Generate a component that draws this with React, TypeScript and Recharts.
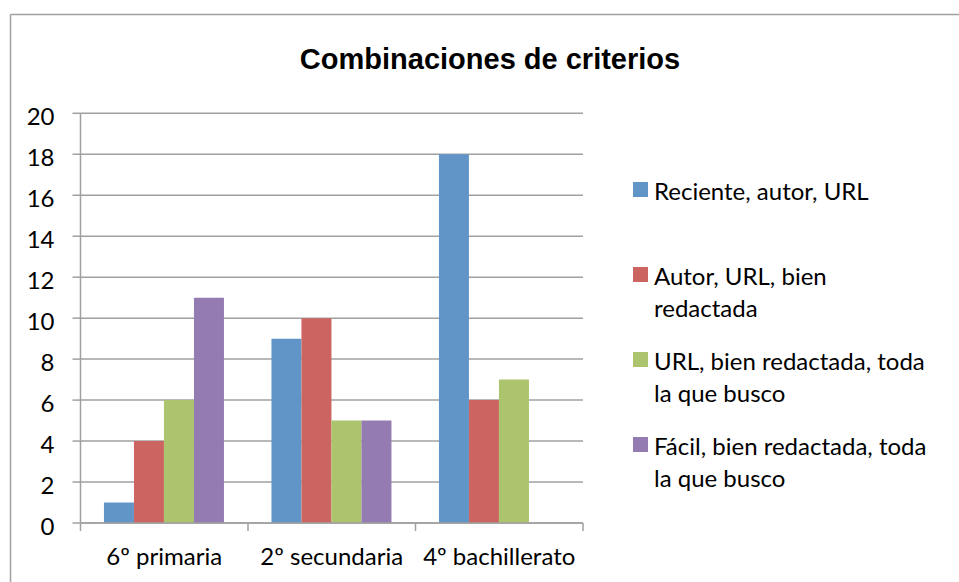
import React from 'react';
import { BarChart, Bar, XAxis, YAxis, CartesianGrid } from 'recharts';

const categories = ['6º primaria', '2º secundaria', '4º bachillerato'];
const seriesNames = [
  'Reciente, autor, URL',
  'Autor, URL, bien\nredactada',
  'URL, bien redactada, toda\nla que busco',
  'Fácil, bien redactada, toda\nla que busco',
];
const seriesColors = ['#6195C8', '#CC6561', '#ABC46D', '#947BB1'];
const reciente = [1, 9, 18];
const autor = [4, 10, 6];
const urlBien = [6, 5, 7];
const facil = [11, 5, null];
const yTicks = [0, 2, 4, 6, 8, 10, 12, 14, 16, 18, 20];

const seriesValues = [reciente, autor, urlBien, facil];
const data = categories.map((c, i) => ({
  name: c,
  s0: seriesValues[0][i],
  s1: seriesValues[1][i],
  s2: seriesValues[2][i],
  s3: seriesValues[3][i],
}));

const GRID = '#A0A0A0';
const FONT = 'Lato, "Open Sans", sans-serif';

const XTick = (props: any) => {
  const { x, y, payload, index } = props;
  const half = payload?.offset ?? 83.75;
  return (
    <g>
      <line x1={x - half} x2={x - half} y1={y} y2={y + 8} stroke={GRID} strokeWidth={1.5} />
      {index === categories.length - 1 && (
        <line x1={x + half} x2={x + half} y1={y} y2={y + 8} stroke={GRID} strokeWidth={1.5} />
      )}
      <text x={x} y={y + 42} textAnchor="middle" fontSize={24} fontFamily={FONT} fill="#000">
        {payload.value}
      </text>
    </g>
  );
};

const YTick = (props: any) => {
  const { x, y, payload } = props;
  return (
    <g>
      <line x1={x - 8} x2={x} y1={y} y2={y} stroke={GRID} strokeWidth={1.5} />
      <text x={x - 26} y={y + 12} textAnchor="end" fontSize={24} fontFamily={FONT} fill="#000">
        {payload.value}
      </text>
    </g>
  );
};

export default function App() {
  return (
    <div style={{ position: 'absolute', left: 0, top: 0, width: 959, height: 582, background: '#fff', overflow: 'hidden' }}>
      <svg width={959} height={582} style={{ position: 'absolute', left: 0, top: 0 }}>
        <line x1={10.5} x2={959} y1={14.5} y2={14.5} stroke="#A0A0A0" strokeWidth={1.5} />
        <line x1={10.5} x2={10.5} y1={14.5} y2={582} stroke="#A0A0A0" strokeWidth={1.5} />
        <text x={490} y={69} textAnchor="middle" fontSize={29} fontWeight="bold" fontFamily='"Liberation Sans", Arial, sans-serif' fill="#000">
          Combinaciones de criterios
        </text>
      </svg>
      <div style={{ position: 'absolute', left: 0, top: 0 }}>
        <BarChart
          width={959}
          height={582}
          data={data}
          margin={{ top: 113.3, right: 376, bottom: 9, left: 10.5 }}
          barCategoryGap="14%"
          barGap={0}
        >
          <CartesianGrid vertical={false} stroke={GRID} strokeWidth={1.5} />
          <XAxis
            dataKey="name"
            height={50}
            interval={0}
            tickSize={0}
            tickMargin={0}
            tickLine={false}
            axisLine={{ stroke: GRID, strokeWidth: 1.5 }}
            tick={<XTick />}
          />
          <YAxis
            width={70}
            domain={[0, 20]}
            ticks={yTicks}
            interval={0}
            tickSize={0}
            tickMargin={0}
            tickLine={false}
            axisLine={{ stroke: GRID, strokeWidth: 1.5 }}
            tick={<YTick />}
          />
          {seriesNames.map((n, i) => (
            <Bar key={n} dataKey={`s${i}`} name={n} fill={seriesColors[i]} isAnimationActive={false} />
          ))}
        </BarChart>
      </div>
      <div style={{ position: 'absolute', left: 633, top: 175, fontFamily: FONT, fontSize: 24, lineHeight: '31.5px', color: '#000' }}>
        {seriesNames.map((n, i) => (
          <div key={n} style={{ display: 'flex', alignItems: 'flex-start', height: 85 }}>
            <div style={{ width: 15, height: 15, marginTop: 7, marginRight: 6, background: seriesColors[i], flexShrink: 0 }} />
            <div style={{ whiteSpace: 'pre-line' }}>{n}</div>
          </div>
        ))}
      </div>
    </div>
  );
}
